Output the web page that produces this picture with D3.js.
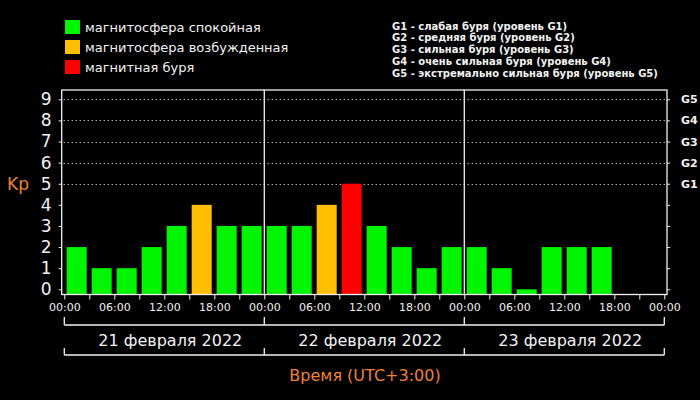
<!DOCTYPE html>
<html>
<head>
<meta charset="utf-8">
<script src="https://cdn.jsdelivr.net/npm/d3@7"></script>
<style>
  html, body { margin: 0; padding: 0; background: #000; }
  svg { display: block; }
</style>
</head>
<body>
<svg id="chart" width="700" height="400"></svg>
<script>
// ---- data ----
const days = ["21 февраля 2022", "22 февраля 2022", "23 февраля 2022"];
const kpValues = [
  2, 1, 1, 2, 3, 4, 3, 3,
  3, 3, 4, 5, 3, 2, 1, 2,
  2, 1, 0, 2, 2, 2, null, null
];
const hourLabels = ["00:00", "06:00", "12:00", "18:00"];
const yTicks = [0, 1, 2, 3, 4, 5, 6, 7, 8, 9];
const gLevels = ["G1", "G2", "G3", "G4", "G5"];
const gLevelKp = [5, 6, 7, 8, 9];
const legendItems = ["магнитосфера спокойная", "магнитосфера возбужденная", "магнитная буря"];
const gDescriptions = [
  "G1 - слабая буря (уровень G1)",
  "G2 - средняя буря (уровень G2)",
  "G3 - сильная буря (уровень G3)",
  "G4 - очень сильная буря (уровень G4)",
  "G5 - экстремально сильная буря (уровень G5)"
];
const yLabel = "Kp";
const xLabel = "Время (UTC+3:00)";

// ---- styles ----
const GREEN = "#00f500", ORANGE = "#ffbf00", RED = "#ff0000";
const AXIS_ORANGE = "#ef8234";
const WHITE = "#f2f2f2";
const legendColors = [GREEN, ORANGE, RED];
const colorFor = v => v >= 5 ? RED : (v >= 4 ? ORANGE : GREEN);

const svg = d3.select("#chart");
svg.append("rect").attr("width", 700).attr("height", 400).attr("fill", "#000");

const plotLeft = 61.7, plotRight = 667, plotTop = 90, plotBottom = 294.5;
const x = d3.scaleLinear().domain([0, 72]).range([64.3, 664.3]);
const y = d3.scaleLinear().domain([0, 9]).range([289.3, 99.3]);
const font = "'DejaVu Sans', Verdana, sans-serif";

// grid lines (dotted) at Kp 5..9
svg.append("g").selectAll("line").data(gLevelKp).join("line")
  .attr("x1", plotLeft + 2).attr("x2", plotRight - 1)
  .attr("y1", d => Math.round(y(d)) + 0.5).attr("y2", d => Math.round(y(d)) + 0.5)
  .attr("stroke", "#ffffff").attr("stroke-width", 1)
  .attr("stroke-dasharray", "1,3");

// bars
const barData = kpValues.map((v, i) => ({ v, i })).filter(d => d.v !== null);
svg.append("g").selectAll("rect").data(barData).join("rect")
  .attr("x", d => x(d.i * 3) + 2.4)
  .attr("width", 20)
  .attr("y", d => y(d.v))
  .attr("height", d => plotBottom - y(d.v))
  .attr("fill", d => colorFor(d.v));

// plot frame
svg.append("rect")
  .attr("x", plotLeft).attr("y", plotTop)
  .attr("width", plotRight - plotLeft).attr("height", plotBottom - plotTop)
  .attr("fill", "none").attr("stroke", WHITE).attr("stroke-width", 1.3);

// day separators
svg.append("g").selectAll("line").data([24, 48]).join("line")
  .attr("x1", d => x(d)).attr("x2", d => x(d))
  .attr("y1", plotTop).attr("y2", plotBottom)
  .attr("stroke", WHITE).attr("stroke-width", 1.3);

// left axis
const leftAxis = svg.append("g")
  .attr("transform", `translate(${plotLeft},0)`)
  .call(d3.axisLeft(y).tickValues(yTicks).tickSize(3).tickPadding(7).tickFormat(d3.format("d")));
leftAxis.select(".domain").remove();
leftAxis.selectAll("line").attr("stroke", WHITE);
leftAxis.selectAll("text").attr("fill", WHITE).attr("font-family", font).attr("font-size", 17);

// right axis with G labels
const gMap = new Map(gLevelKp.map((k, i) => [k, gLevels[i]]));
const rightAxis = svg.append("g")
  .attr("transform", `translate(${plotRight},0)`)
  .call(d3.axisRight(y).tickValues(yTicks).tickSize(3).tickPadding(11).tickFormat(d => gMap.get(d) || ""));
rightAxis.select(".domain").remove();
rightAxis.selectAll("line").attr("stroke", WHITE);
rightAxis.selectAll("text").attr("fill", WHITE).attr("font-family", font)
  .attr("font-size", 11).attr("font-weight", "bold");

// bottom axis: ticks every 3h, labels every 6h
const hourTicks = d3.range(0, 73, 3);
const bottomAxis = svg.append("g")
  .attr("transform", `translate(0,${plotBottom})`)
  .call(d3.axisBottom(x).tickValues(hourTicks).tickSize(5).tickPadding(4)
    .tickFormat(d => d % 6 === 0 ? hourLabels[(d % 24) / 6] : ""));
bottomAxis.select(".domain").remove();
bottomAxis.selectAll("line").attr("stroke", WHITE);
bottomAxis.selectAll("text").attr("fill", WHITE).attr("font-family", font).attr("font-size", 11);

// date brackets
const dayBounds = [0, 24, 48, 72];
const br = svg.append("g").attr("stroke", WHITE).attr("stroke-width", 1.3);
br.append("line").attr("x1", x(0)).attr("x2", x(72)).attr("y1", 325).attr("y2", 325);
br.selectAll(".u1").data(dayBounds).join("line").attr("class", "u1")
  .attr("x1", d => x(d)).attr("x2", d => x(d)).attr("y1", 317).attr("y2", 325);
br.append("line").attr("x1", x(0)).attr("x2", x(72)).attr("y1", 355).attr("y2", 355);
br.selectAll(".u2").data(dayBounds).join("line").attr("class", "u2")
  .attr("x1", d => x(d)).attr("x2", d => x(d)).attr("y1", 348).attr("y2", 355);

svg.append("g").selectAll("text").data(days).join("text")
  .attr("x", (d, i) => x(i * 24 + 12) + 6)
  .attr("y", 340).attr("dy", "0.35em")
  .attr("text-anchor", "middle")
  .attr("fill", WHITE).attr("font-family", font).attr("font-size", 16)
  .text(d => d);

// axis titles
svg.append("text").attr("x", 365).attr("y", 375).attr("dy", "0.35em")
  .attr("text-anchor", "middle").attr("fill", AXIS_ORANGE)
  .attr("font-family", font).attr("font-size", 16).text(xLabel);
svg.append("text").attr("x", 7).attr("y", 184).attr("dy", "0.35em")
  .attr("fill", AXIS_ORANGE).attr("font-family", font).attr("font-size", 17).text(yLabel);

// legend
const lg = svg.append("g");
lg.selectAll("rect").data(legendItems).join("rect")
  .attr("x", 65).attr("y", (d, i) => 20 + i * 20)
  .attr("width", 15).attr("height", 14)
  .attr("fill", (d, i) => legendColors[i]);
lg.selectAll("text").data(legendItems).join("text")
  .attr("x", 85).attr("y", (d, i) => 27 + i * 20).attr("dy", "0.35em")
  .attr("fill", WHITE).attr("font-family", font).attr("font-size", 13)
  .text(d => d);

// G descriptions
svg.append("g").selectAll("text").data(gDescriptions).join("text")
  .attr("x", 392).attr("y", (d, i) => 26 + i * 11.8).attr("dy", "0.35em")
  .attr("fill", WHITE).attr("font-family", font).attr("font-size", 10)
  .attr("font-weight", "bold")
  .text(d => d);
</script>
</body>
</html>
